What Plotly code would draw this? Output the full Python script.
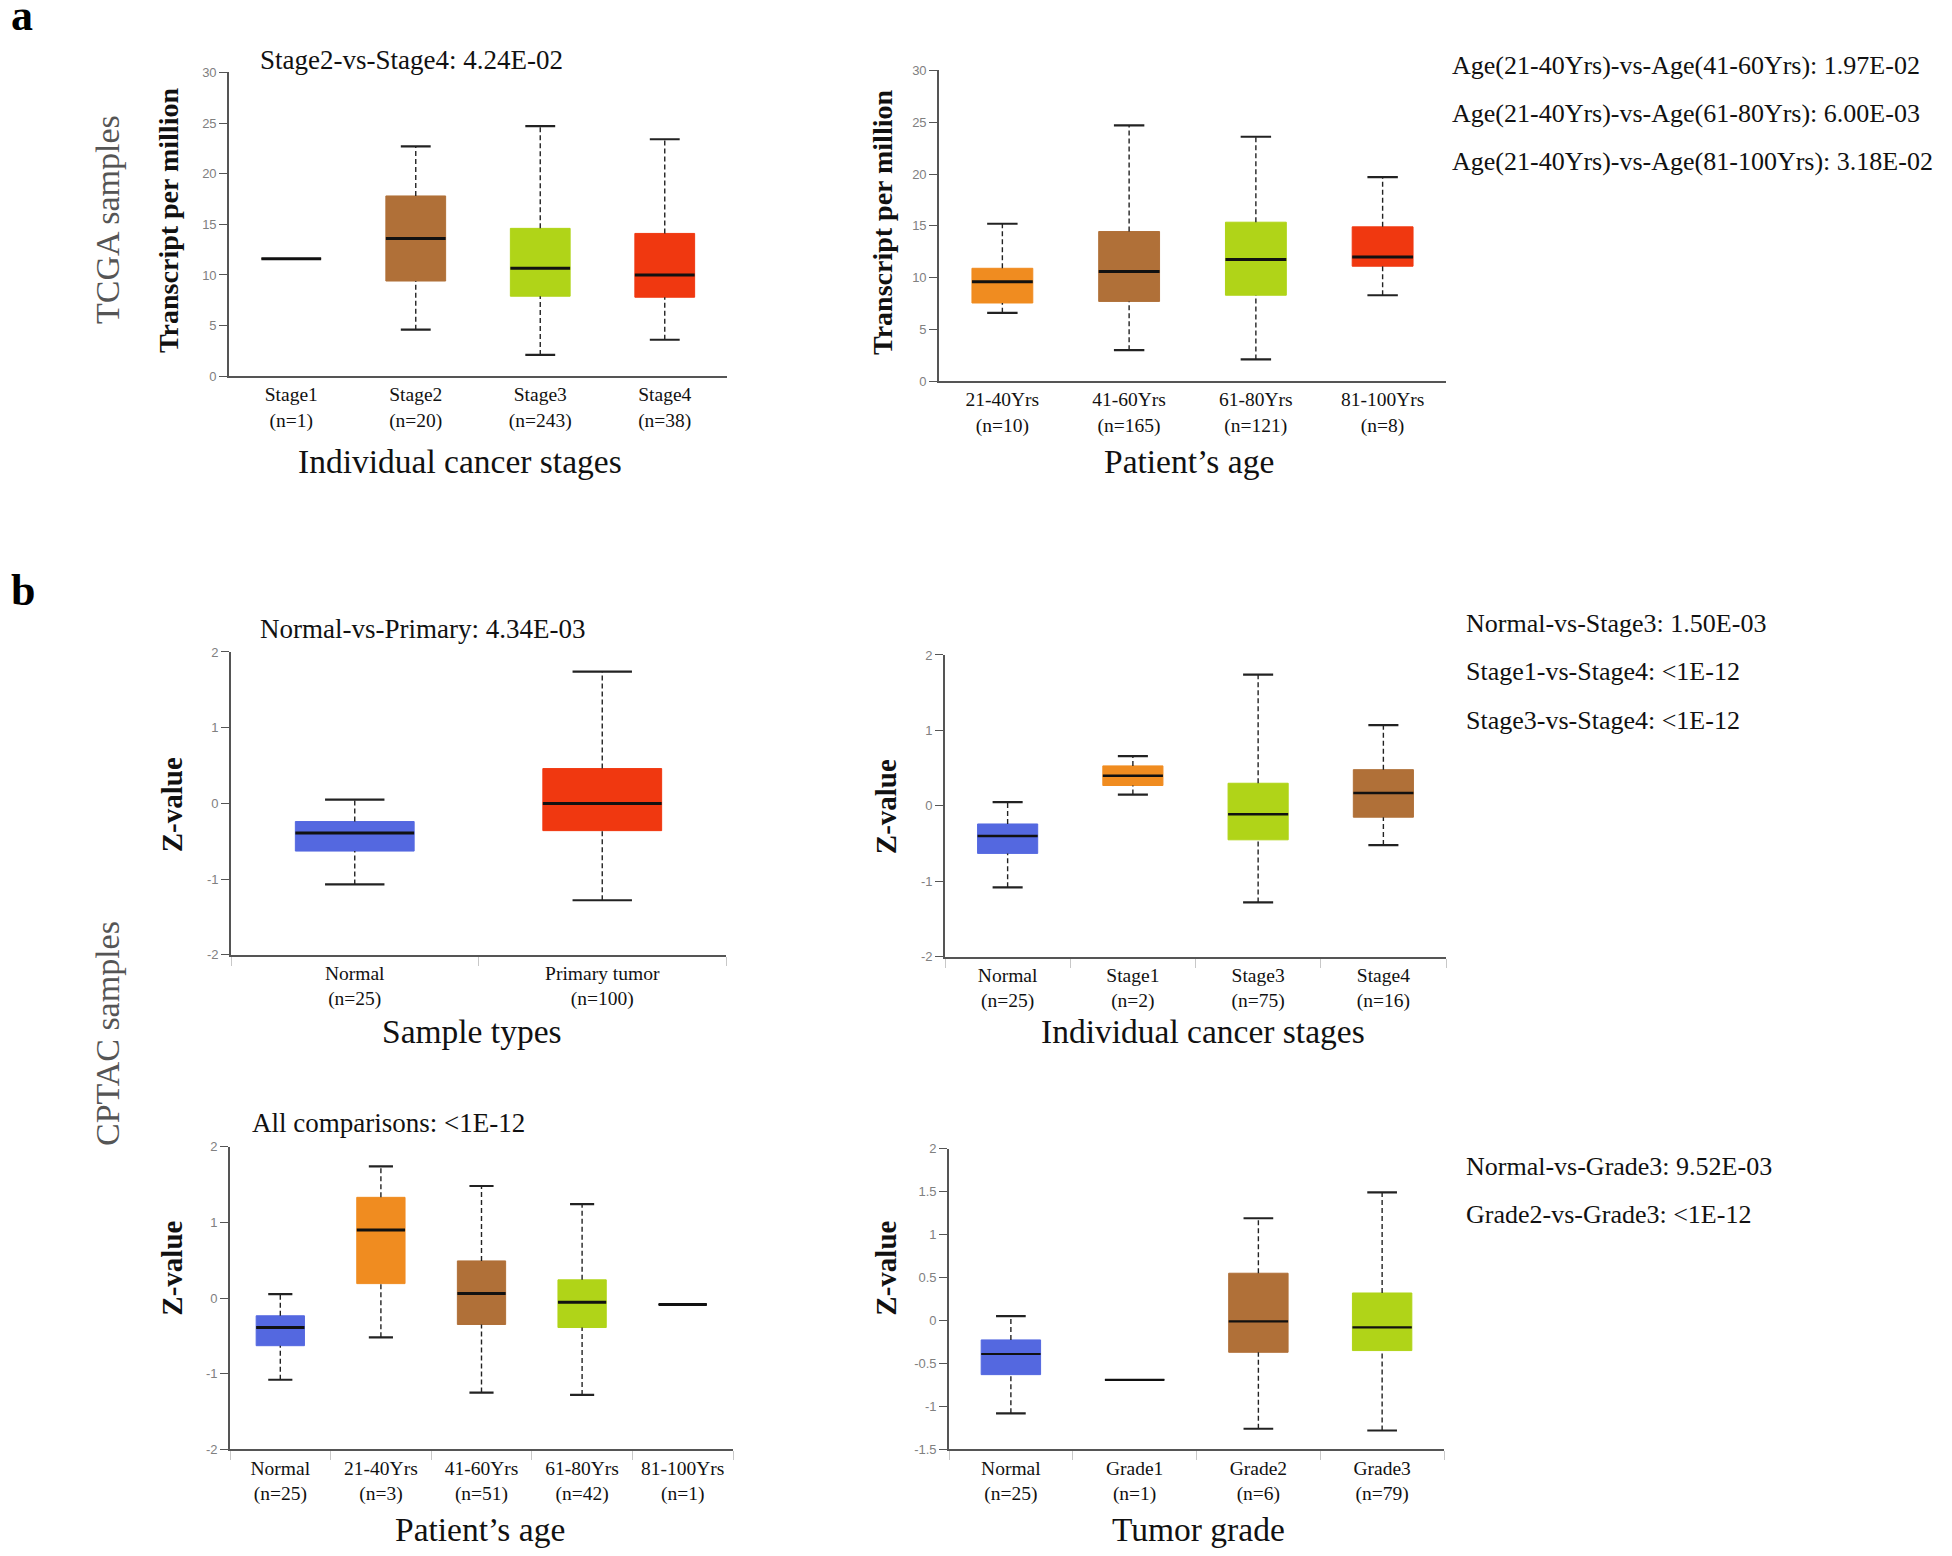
import plotly.graph_objects as go

# page is 1952x1556; the browser body has an 8px margin, so the figure is
# made 16px smaller and every page position is shifted by that margin.
PAGE_W, PAGE_H = 1952, 1556
MARGIN = 8
W, H = PAGE_W - 2 * MARGIN, PAGE_H - 2 * MARGIN
SERIF = "Liberation Serif, Times New Roman, serif"
SANS = "Liberation Sans, Arial, sans-serif"

BLUE = "#5468E0"
ORANGE = "#F08C20"
BROWN = "#B07038"
GREEN = "#B0D418"
RED = "#F03810"

# ---------------- data ----------------
# Panel a-left: TCGA, individual cancer stages
a1_cats = ["Stage1", "Stage2", "Stage3", "Stage4"]
a1_n = [1, 20, 243, 38]
a1_low = [11.6, 4.6, 2.1, 3.6]
a1_q1 = [11.6, 9.4, 7.9, 7.8]
a1_med = [11.6, 13.6, 10.65, 10.0]
a1_q3 = [11.6, 17.8, 14.6, 14.1]
a1_high = [11.6, 22.7, 24.7, 23.4]
a1_colors = [BROWN, BROWN, GREEN, RED]

# Panel a-right: TCGA, patient's age
a2_cats = ["21-40Yrs", "41-60Yrs", "61-80Yrs", "81-100Yrs"]
a2_n = [10, 165, 121, 8]
a2_low = [6.6, 3.0, 2.1, 8.3]
a2_q1 = [7.55, 7.7, 8.3, 11.1]
a2_med = [9.6, 10.6, 11.75, 12.0]
a2_q3 = [10.9, 14.45, 15.35, 14.9]
a2_high = [15.2, 24.7, 23.6, 19.7]
a2_colors = [ORANGE, BROWN, GREEN, RED]

# Panel b1: CPTAC, sample types
b1_cats = ["Normal", "Primary tumor"]
b1_n = [25, 100]
b1_low = [-1.07, -1.28]
b1_q1 = [-0.63, -0.36]
b1_med = [-0.39, 0.0]
b1_q3 = [-0.24, 0.46]
b1_high = [0.05, 1.74]
b1_colors = [BLUE, RED]

# Panel b2: CPTAC, individual cancer stages
b2_cats = ["Normal", "Stage1", "Stage3", "Stage4"]
b2_n = [25, 2, 75, 16]
b2_low = [-1.08, 0.15, -1.28, -0.52]
b2_q1 = [-0.63, 0.27, -0.45, -0.15]
b2_med = [-0.40, 0.40, -0.11, 0.17]
b2_q3 = [-0.24, 0.53, 0.30, 0.48]
b2_high = [0.05, 0.66, 1.74, 1.07]
b2_colors = [BLUE, ORANGE, GREEN, BROWN]

# Panel b3: CPTAC, patient's age
b3_cats = ["Normal", "21-40Yrs", "41-60Yrs", "61-80Yrs", "81-100Yrs"]
b3_n = [25, 3, 51, 42, 1]
b3_low = [-1.08, -0.52, -1.25, -1.28, -0.085]
b3_q1 = [-0.63, 0.19, -0.35, -0.39, -0.085]
b3_med = [-0.39, 0.90, 0.06, -0.055, -0.085]
b3_q3 = [-0.235, 1.33, 0.49, 0.24, -0.085]
b3_high = [0.05, 1.74, 1.48, 1.24, -0.085]
b3_colors = [BLUE, ORANGE, BROWN, GREEN, "#222222"]

# Panel b4: CPTAC, tumor grade
b4_cats = ["Normal", "Grade1", "Grade2", "Grade3"]
b4_n = [25, 1, 6, 79]
b4_low = [-1.08, -0.69, -1.26, -1.28]
b4_q1 = [-0.63, -0.69, -0.37, -0.35]
b4_med = [-0.39, -0.69, -0.01, -0.08]
b4_q3 = [-0.226, -0.69, 0.55, 0.32]
b4_high = [0.05, -0.69, 1.19, 1.49]
b4_colors = [BLUE, "#222222", BROWN, GREEN]

tpm_ticks = [0, 5, 10, 15, 20, 25, 30]
tpm_ticktext = ["0", "5", "10", "15", "20", "25", "30"]
z_ticks = [-2, -1, 0, 1, 2]
z_ticktext = ["-2", "-1", "0", "1", "2"]
z4_ticks = [-1.5, -1, -0.5, 0, 0.5, 1, 1.5, 2]
z4_ticktext = ["-1.5", "-1", "-0.5", "0", "0.5", "1", "1.5", "2"]

# ---------------- layout helpers (page pixels -> paper fractions) ----------------
def X(px):
    return (px - MARGIN) / W

def Y(py):
    return 1 - (py - MARGIN) / H

def Yd(py):
    # small vertical stretch so the plot areas line up with the reference
    return Y(py - 5 + 0.00907 * (py - 71))

panels = [
    dict(cats=a1_cats, n=a1_n, low=a1_low, q1=a1_q1, med=a1_med, q3=a1_q3, high=a1_high,
         colors=a1_colors, xdom=(229, 727), ydom=(71, 375), yrange=[0, 30],
         ytv=tpm_ticks, ytt=tpm_ticktext, bounds=False, medw=3),
    dict(cats=a2_cats, n=a2_n, low=a2_low, q1=a2_q1, med=a2_med, q3=a2_q3, high=a2_high,
         colors=a2_colors, xdom=(939, 1446), ydom=(69, 380), yrange=[0, 30],
         ytv=tpm_ticks, ytt=tpm_ticktext, bounds=False, medw=3),
    dict(cats=b1_cats, n=b1_n, low=b1_low, q1=b1_q1, med=b1_med, q3=b1_q3, high=b1_high,
         colors=b1_colors, xdom=(231, 726), ydom=(651, 954), yrange=[-2, 2],
         ytv=z_ticks, ytt=z_ticktext, bounds=True, medw=3),
    dict(cats=b2_cats, n=b2_n, low=b2_low, q1=b2_q1, med=b2_med, q3=b2_q3, high=b2_high,
         colors=b2_colors, xdom=(945, 1446), ydom=(654, 956), yrange=[-2, 2],
         ytv=z_ticks, ytt=z_ticktext, bounds=True, medw=2.5),
    dict(cats=b3_cats, n=b3_n, low=b3_low, q1=b3_q1, med=b3_med, q3=b3_q3, high=b3_high,
         colors=b3_colors, xdom=(230, 733), ydom=(1146, 1449), yrange=[-2, 2],
         ytv=z_ticks, ytt=z_ticktext, bounds=True, medw=3),
    dict(cats=b4_cats, n=b4_n, low=b4_low, q1=b4_q1, med=b4_med, q3=b4_q3, high=b4_high,
         colors=b4_colors, xdom=(949, 1444), ydom=(1148, 1449), yrange=[-1.5, 2],
         ytv=z4_ticks, ytt=z4_ticktext, bounds=True, medw=2.2),
]

BOXW = 0.48
CAPW = 0.24

fig = go.Figure()
layout = dict(
    width=W, height=H, margin=dict(l=0, r=0, t=0, b=0),
    paper_bgcolor="white", plot_bgcolor="white", showlegend=False,
)

for k, p in enumerate(panels):
    sfx = "" if k == 0 else str(k + 1)
    xa, ya = "x" + sfx, "y" + sfx
    idx = list(range(len(p["cats"])))

    # whiskers (dashed)
    wx, wy = [], []
    for i in idx:
        if p["high"][i] > p["q3"][i]:
            wx += [i, i, None]
            wy += [p["q3"][i], p["high"][i], None]
        if p["low"][i] < p["q1"][i]:
            wx += [i, i, None]
            wy += [p["low"][i], p["q1"][i], None]
    fig.add_trace(go.Scatter(x=wx, y=wy, mode="lines", xaxis=xa, yaxis=ya,
                             line=dict(color="#222222", width=1.4, dash="5px,3px"),
                             hoverinfo="skip"))
    # caps
    cx, cy = [], []
    for i in idx:
        if p["high"][i] > p["q3"][i]:
            cx += [i - CAPW / 2, i + CAPW / 2, None]
            cy += [p["high"][i], p["high"][i], None]
        if p["low"][i] < p["q1"][i]:
            cx += [i - CAPW / 2, i + CAPW / 2, None]
            cy += [p["low"][i], p["low"][i], None]
    fig.add_trace(go.Scatter(x=cx, y=cy, mode="lines", xaxis=xa, yaxis=ya,
                             line=dict(color="#222222", width=2.2), hoverinfo="skip"))
    # boxes
    fig.add_trace(go.Bar(x=idx, y=[p["q3"][i] - p["q1"][i] for i in idx],
                         base=p["q1"], width=BOXW, xaxis=xa, yaxis=ya,
                         marker=dict(color=p["colors"], line=dict(color=p["colors"], width=1)),
                         hoverinfo="skip"))
    # medians
    mx, my = [], []
    for i in idx:
        mx += [i - BOXW / 2, i + BOXW / 2, None]
        my += [p["med"][i], p["med"][i], None]
    fig.add_trace(go.Scatter(x=mx, y=my, mode="lines", xaxis=xa, yaxis=ya,
                             line=dict(color="#111111", width=p["medw"]), hoverinfo="skip"))

    ticktext = [f"{c}<br>(n={n})" for c, n in zip(p["cats"], p["n"])]
    xaxis = dict(
        domain=[X(p["xdom"][0]), X(p["xdom"][1])], anchor=ya,
        range=[-0.5, len(idx) - 0.5], tickmode="array", tickvals=idx, ticktext=ticktext,
        ticks="", showline=True, linecolor="#555555", linewidth=1.6, showgrid=False,
        zeroline=False, tickfont=dict(family=SERIF, size=19.5, color="#111111"),
        fixedrange=True,
    )
    if p["bounds"]:
        xaxis["minor"] = dict(tickmode="array", tickvals=[i - 0.5 for i in idx] + [len(idx) - 0.5],
                              ticks="outside", ticklen=9, tickcolor="#c8c8c8", tickwidth=1,
                              showgrid=False)
    yaxis = dict(
        domain=[Yd(p["ydom"][1]), Yd(p["ydom"][0])], anchor=xa,
        range=p["yrange"], tickmode="array", tickvals=p["ytv"], ticktext=p["ytt"],
        ticks="outside", ticklen=8, tickcolor="#555555", tickwidth=1.3,
        showline=True, linecolor="#555555", linewidth=1.6, showgrid=False, zeroline=False,
        tickfont=dict(family=SANS, size=13, color="#808080"), fixedrange=True,
    )
    layout["xaxis" + sfx] = xaxis
    layout["yaxis" + sfx] = yaxis

annotations = []

def txt(text, px, py, size, bold=False, color="#111111", xanchor="left", angle=0):
    if bold:
        text = f"<b>{text}</b>"
    annotations.append(dict(text=text, x=X(px), y=Y(py), xref="paper", yref="paper",
                            xanchor=xanchor, yanchor="middle", showarrow=False,
                            textangle=angle,
                            font=dict(family=SERIF, size=size, color=color)))

# panel letters
txt("a", 9, 9, 44, bold=True, color="#000000")
txt("b", 9, 589, 44, bold=True, color="#000000")

# row labels
txt("TCGA samples", 108, 215, 34, color="#555555", xanchor="center", angle=-90)
txt("CPTAC samples", 108, 1037, 34, color="#555555", xanchor="center", angle=-90)

# y-axis labels
txt("Transcript per million", 169, 216, 28, bold=True, xanchor="center", angle=-90)
txt("Transcript per million", 883, 218, 28, bold=True, xanchor="center", angle=-90)
txt("Z-value", 172, 806, 29, bold=True, xanchor="center", angle=-90)
txt("Z-value", 886, 808, 29, bold=True, xanchor="center", angle=-90)
txt("Z-value", 172, 1274, 29, bold=True, xanchor="center", angle=-90)
txt("Z-value", 886, 1274, 29, bold=True, xanchor="center", angle=-90)

# x-axis titles
txt("Individual cancer stages", 460, 459, 33.5, xanchor="center")
txt("Patient’s age", 1189, 459, 33.5, xanchor="center")
txt("Sample types", 472, 1034, 33.5, xanchor="center")
txt("Individual cancer stages", 1203, 1034, 33.5, xanchor="center")
txt("Patient’s age", 480, 1537, 33.5, xanchor="center")
txt("Tumor grade", 1198, 1537, 33.5, xanchor="center")

# p-value notes
txt("Stage2-vs-Stage4: 4.24E-02", 258, 53, 27)
txt("Normal-vs-Primary: 4.34E-03", 258, 628, 27)
txt("All comparisons: <1E-12", 250, 1127, 27)

a2_notes = ["Age(21-40Yrs)-vs-Age(41-60Yrs): 1.97E-02",
            "Age(21-40Yrs)-vs-Age(61-80Yrs): 6.00E-03",
            "Age(21-40Yrs)-vs-Age(81-100Yrs): 3.18E-02"]
for j, t in enumerate(a2_notes):
    txt(t, 1450, 59 + 48.5 * j, 26)

b2_notes = ["Normal-vs-Stage3: 1.50E-03", "Stage1-vs-Stage4: <1E-12", "Stage3-vs-Stage4: <1E-12"]
for j, t in enumerate(b2_notes):
    txt(t, 1464, 622 + 49 * j, 26)

b4_notes = ["Normal-vs-Grade3: 9.52E-03", "Grade2-vs-Grade3: <1E-12"]
for j, t in enumerate(b4_notes):
    txt(t, 1464, 1171 + 48 * j, 26)

layout["annotations"] = annotations
fig.update_layout(**layout)
fig.write_html("out.html")
